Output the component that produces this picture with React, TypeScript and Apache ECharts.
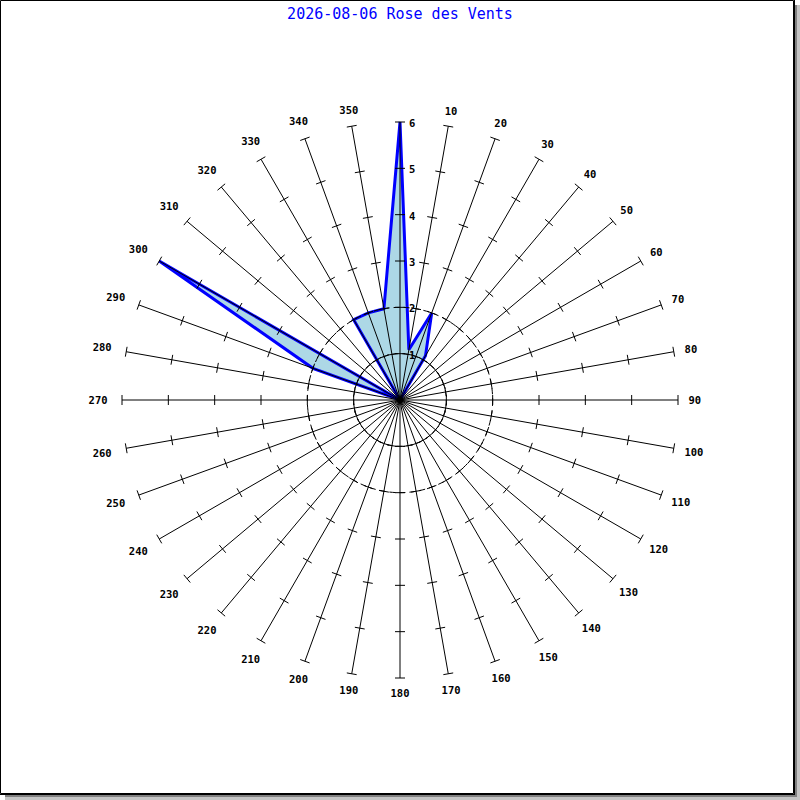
import React, { useEffect, useRef } from "react";
import * as echarts from "echarts";

// Wind rose: mean speed per 10° sector
const TITLE = "2026-08-06 Rose des Vents";
const DIRECTIONS = [
  0, 10, 20, 30, 40, 50, 60, 70, 80, 90, 100, 110, 120, 130, 140, 150, 160, 170,
  180, 190, 200, 210, 220, 230, 240, 250, 260, 270, 280, 290, 300, 310, 320, 330, 340, 350,
];
const DIRECTION_LABELS = [
  "", "10", "20", "30", "40", "50", "60", "70", "80", "90", "100", "110", "120", "130", "140", "150", "160", "170",
  "180", "190", "200", "210", "220", "230", "240", "250", "260", "270", "280", "290", "300", "310", "320", "330", "340", "350",
];
const SPEEDS = [
  6, 1.1, 2, 1.1, 0, 0, 0, 0, 0, 0, 0, 0, 0, 0, 0, 0, 0, 0,
  0, 0, 0, 0, 0, 0, 0, 0, 0, 0, 0, 2, 6, 0, 0, 2, 2, 2,
];
const SCALE_TICKS = [1, 2, 3, 4, 5, 6];
const SCALE_LABELS = ["1", "2", "3", "4", "5", "6"];
const RINGS = [1, 2];
const R_MAX = 6;

const MONO = '"DejaVu Sans Mono", "Liberation Mono", monospace';
const LABEL_FONT = `bold 10.5px ${MONO}`;

export default function App() {
  const ref = useRef<HTMLDivElement>(null);

  useEffect(() => {
    if (!ref.current) return;
    const chart = echarts.init(ref.current, null, { renderer: "svg" });

    const option: any = {
      animation: false,
      backgroundColor: "#ffffff",
      polar: { center: [400, 400], radius: 278 },
      angleAxis: {
        type: "value",
        min: 0,
        max: 360,
        interval: 10,
        startAngle: 90,
        clockwise: true,
        axisLine: { show: false },
        axisTick: { show: false },
        axisLabel: { show: false },
        splitLine: { show: false },
      },
      radiusAxis: {
        type: "value",
        min: 0,
        max: R_MAX,
        interval: 1,
        axisLine: { show: false },
        axisTick: { show: false },
        axisLabel: { show: false },
        splitLine: { show: false },
      },
      graphic: [
        {
          type: "rect",
          shape: { x: 0.5, y: 0.5, width: 793, height: 793 },
          style: { fill: "none", stroke: "#000", lineWidth: 1 },
          silent: true,
        },
        {
          type: "line",
          shape: { x1: 794.5, y1: 0, x2: 794.5, y2: 795 },
          style: { stroke: "#000", lineWidth: 1 },
          silent: true,
        },
        {
          type: "line",
          shape: { x1: 0, y1: 794.5, x2: 795, y2: 794.5 },
          style: { stroke: "#000", lineWidth: 1 },
          silent: true,
        },
        { type: "rect", shape: { x: 795, y: 5, width: 2, height: 795 }, style: { fill: "#808080" }, silent: true },
        { type: "rect", shape: { x: 797, y: 5, width: 3, height: 795 }, style: { fill: "#c4c4c4" }, silent: true },
        { type: "rect", shape: { x: 5, y: 795, width: 790, height: 2 }, style: { fill: "#808080" }, silent: true },
        { type: "rect", shape: { x: 5, y: 797, width: 795, height: 3 }, style: { fill: "#c4c4c4" }, silent: true },
        {
          type: "text",
          x: 400,
          y: 14,
          style: {
            text: TITLE,
            fill: "#0000ff",
            font: `15px ${MONO}`,
            align: "center",
            verticalAlign: "middle",
          },
          silent: true,
        },
      ],
      series: [
        {
          // filled rose polygon
          type: "custom",
          coordinateSystem: "polar",
          silent: true,
          z: 2,
          data: DIRECTIONS.map((d, i) => [SPEEDS[i], d]),
          renderItem: (params: any, api: any) => {
            if (params.dataIndex !== 0) return null;
            const points = DIRECTIONS.map((d, i) => api.coord([SPEEDS[i], d]));
            return {
              type: "polygon",
              shape: { points },
              style: { fill: "#add8e6", stroke: "#0000ff", lineWidth: 3, lineJoin: "miter", miterLimit: 2 },
            };
          },
        },
        {
          // dashed reference circles
          type: "custom",
          coordinateSystem: "polar",
          silent: true,
          z: 3,
          data: RINGS.map((r) => [r, 0]),
          renderItem: (params: any, api: any) => {
            const c = api.coord([0, 0]);
            const p = api.coord([api.value(0), 0]);
            const r = Math.hypot(p[0] - c[0], p[1] - c[1]);
            return {
              type: "circle",
              shape: { cx: c[0], cy: c[1], r },
              style: { fill: "none", stroke: "#000", lineWidth: 1, lineDash: [6, 4] },
            };
          },
        },
        {
          // spokes with ticks and direction labels
          type: "custom",
          coordinateSystem: "polar",
          silent: true,
          z: 4,
          data: DIRECTIONS.map((d) => [R_MAX, d]),
          renderItem: (params: any, api: any) => {
            const ang = api.value(1);
            const c = api.coord([0, ang]);
            const end = api.coord([R_MAX, ang]);
            const dx = end[0] - c[0];
            const dy = end[1] - c[1];
            const R = Math.hypot(dx, dy);
            const ux = dx / R;
            const uy = dy / R;
            const nx = -uy;
            const ny = ux;
            const children: any[] = [
              {
                type: "line",
                shape: { x1: c[0], y1: c[1], x2: end[0], y2: end[1] },
                style: { stroke: "#000", lineWidth: 1 },
              },
            ];
            SCALE_TICKS.forEach((k) => {
              const p = api.coord([k, ang]);
              children.push({
                type: "line",
                shape: { x1: p[0] - 5 * nx, y1: p[1] - 5 * ny, x2: p[0] + 5 * nx, y2: p[1] + 5 * ny },
                style: { stroke: "#000", lineWidth: 1 },
              });
            });
            const text = DIRECTION_LABELS[params.dataIndex];
            if (text) {
              const w = text.length * 6.3;
              const h = 8;
              const gap = 10.5 + 4 * Math.max(0, -ux);
              const dist = R + gap + (w / 2) * Math.abs(ux) + (h / 2) * Math.abs(uy);
              children.push({
                type: "text",
                x: c[0] + ux * dist,
                y: c[1] + uy * dist,
                style: {
                  text,
                  fill: "#000",
                  font: LABEL_FONT,
                  align: "center",
                  verticalAlign: "middle",
                },
              });
            }
            return { type: "group", children };
          },
        },
        {
          // speed scale along the north spoke
          type: "custom",
          coordinateSystem: "polar",
          silent: true,
          z: 5,
          data: SCALE_TICKS.map((k) => [k, 0]),
          renderItem: (params: any, api: any) => {
            const p = api.coord([api.value(0), 0]);
            return {
              type: "text",
              x: p[0] + 9,
              y: p[1] + 1,
              style: {
                text: SCALE_LABELS[params.dataIndex],
                fill: "#000",
                font: LABEL_FONT,
                align: "left",
                verticalAlign: "middle",
              },
            };
          },
        },
      ],
    };

    chart.setOption(option);
    return () => chart.dispose();
  }, []);

  return (
    <div
      ref={ref}
      style={{ position: "absolute", left: 0, top: 0, width: 800, height: 800 }}
    />
  );
}
